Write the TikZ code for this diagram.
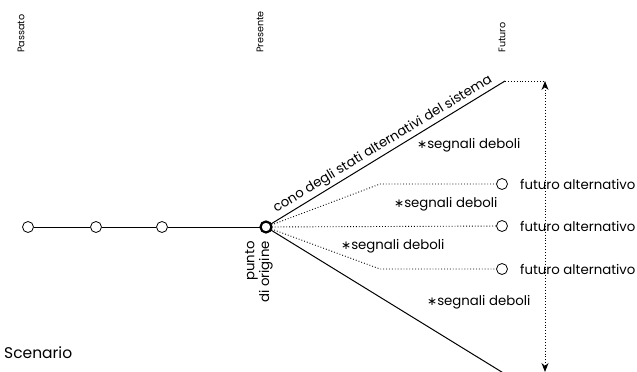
\documentclass[tikz,border=0pt]{standalone}
\usepackage{fontspec}
\setmainfont{Poppins}
\newfontfamily\symfont{DejaVu Sans}
\usetikzlibrary{arrows.meta,calc}
\newcommand{\astk}{{\symfont\fontsize{12}{12}\selectfont ∗}}
\begin{document}
\begin{tikzpicture}[x=1pt,y=-1pt,
  pt/.style={circle,draw,fill=white,minimum size=11pt,inner sep=0pt,line width=0.8pt},
  origin/.style={circle,draw,fill=white,minimum size=11pt,inner sep=0pt,line width=2.2pt},
  solidline/.style={line width=1pt},
  dotline/.style={line width=0.9pt,dotted},
  lbl/.style={font=\fontsize{13.3}{14}\selectfont,inner sep=0pt},
  toplbl/.style={font=\fontsize{9.6}{10}\selectfont,inner sep=0pt,rotate=90,anchor=west},
  sig/.style={font=\fontsize{13.3}{14}\selectfont,inner sep=0pt,anchor=west}
]
\useasboundingbox (0,0) rectangle (637,372);
% top labels
\node[toplbl] (pas) at (21,53) {Passato};
\node[toplbl] (pre) at (260,53) {Presente};
\node[toplbl] (fut) at (502,53) {Futuro};
% past timeline
\coordinate (c0) at (266,227);
\node[pt] (p1) at (28,227) {};
\node[pt] (p2) at (96,227) {};
\node[pt] (p3) at (162,227) {};
\coordinate (ue) at (505,81);
\coordinate (le) at (505,374);
\draw[solidline] (p1) -- (p2) -- (p3) -- (c0);
% cone
\draw[solidline] (c0) -- (ue);
\draw[solidline] (c0) -- (le);
% alternative futures
\node[pt] (f1) at (502,184) {};
\node[pt] (f2) at (502,226) {};
\node[pt] (f3) at (502,269) {};
\coordinate (b1) at (380,184);
\coordinate (b3) at (380,269);
\draw[dotline] (c0) -- (b1) -- (f1);
\draw[dotline] (c0) -- (f2);
\draw[dotline] (c0) -- (b3) -- (f3);
% vertical arrow
\coordinate (at) at (545,81);
\coordinate (ab) at (545,372);
\draw[dotline] (ue) -- (at);
\draw[dotline,{Stealth[length=9pt,width=7pt]}-{Stealth[length=9pt,width=7pt]}] (at) -- (ab);
% origin circle
\node[origin] (o) at (c0) {};
% labels
\node[lbl,anchor=west] (fa1) at (520,184) {futuro alternativo};
\node[lbl,anchor=west] (fa2) at (520,226) {futuro alternativo};
\node[lbl,anchor=west] (fa3) at (520,269) {futuro alternativo};
\node[sig] (s1) at (417,145) {\astk segnali deboli};
\node[sig] (s2) at (394,204) {\astk segnali deboli};
\node[sig] (s3) at (341,246) {\astk segnali deboli};
\node[sig] (s4) at (427,302) {\astk segnali deboli};
\node[lbl,rotate=31.2,anchor=south,inner sep=2.5pt] (cono) at ($(c0)!0.51!(ue)$) {cono degli stati alternativi del sistema};
\node[lbl,rotate=90,anchor=east,align=right,font=\fontsize{13.3}{13.5}\selectfont] (po) at (259,241) {punto\\di origine};
\node[font=\fontsize{15.5}{17}\selectfont,inner sep=0pt,anchor=west] (sc) at (4,353) {Scenario};
\end{tikzpicture}
\end{document}
